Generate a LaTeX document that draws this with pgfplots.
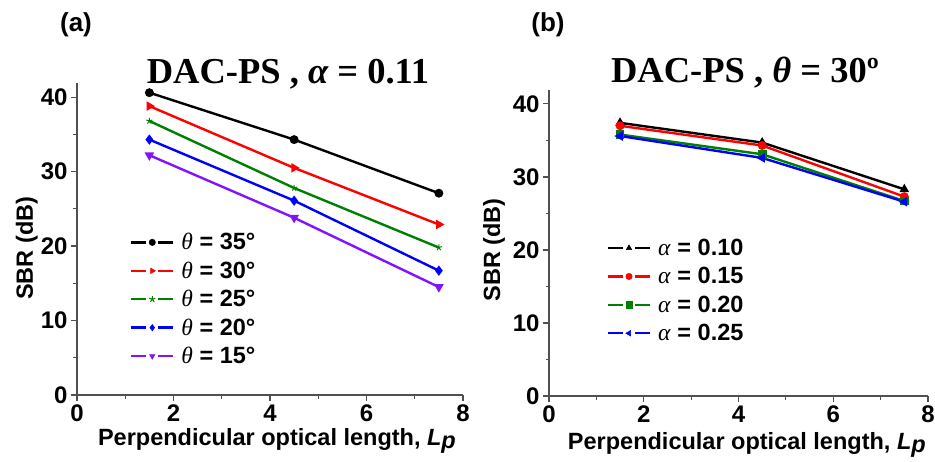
\documentclass[border=0pt]{standalone}
\usepackage{fontspec}
\setmainfont{Liberation Sans}
\newfontfamily\tnr{Liberation Serif}
\usepackage{pgfplots}
\pgfplotsset{compat=1.18}
\definecolor{myviolet}{RGB}{128,20,255}
\definecolor{mygreen}{RGB}{0,128,0}
\definecolor{axgray}{RGB}{80,80,80}
\newcommand\lp{\textit{L}\raisebox{-0.3ex}{\textit{p}}}
\pgfplotsset{
  myax/.style={
    scale only axis,
    xmin=0, xmax=8, ymin=0, ymax=41.9,
    axis x line=bottom, axis y line=left,
    axis line style={-, axgray, line width=1.3pt},
    every tick/.style={axgray, line width=1.2pt},
    tick align=outside,
    major tick length=6pt, minor tick length=3.5pt,
    xtick={0,2,4,6,8}, ytick={0,10,20,30,40},
    minor tick num=1,
    /pgf/number format/assume math mode=true,
    ticklabel style={font=\fontsize{24}{26}\selectfont\bfseries},
    label style={font=\fontsize{23.5}{25}\selectfont\bfseries},
    xlabel={Perpendicular optical length, \lp},
    ylabel={SBR (dB)},
    every axis plot/.append style={line width=2.4pt, mark size=3.2pt},
    legend style={draw=none, fill=none, font=\fontsize{23.5}{25}\selectfont, row sep=6.5pt,
      inner sep=0pt,
      /tikz/every odd column/.append style={column sep=5pt}},
    legend cell align=left,
    legend image code/.code={
      \draw[mark=none, line width=2.4pt] (0pt,0pt)--(15pt,0pt);
      \draw[mark=none, line width=2.4pt] (27pt,0pt)--(42pt,0pt);
      \draw[line width=0.5pt] plot coordinates {(21pt,0pt)};
    },
  }
}
\begin{document}
\begin{tikzpicture}
\useasboundingbox (0pt,0pt) rectangle (935pt,-461pt);
\begin{axis}[myax, at={(77pt,-395pt)}, anchor=south west, width=386pt, height=312pt,
  xlabel style={at={(axis description cs:0.518,-0.147)}, anchor=center},
  ylabel style={at={(axis description cs:-0.13,0.47)}, anchor=center},
  legend style={at={(axis description cs:0.137,0.525)}, anchor=north west}]
\addplot[black, mark=*] coordinates {(1.5,40.6) (4.5,34.3) (7.5,27.1)};
\addlegendentry{{\tnr\itshape θ} \textbf{= 35°}}
\addplot[red, mark=triangle*, mark options={rotate=-90}] coordinates {(1.5,38.8) (4.5,30.5) (7.5,22.9)};
\addlegendentry{{\tnr\itshape θ} \textbf{= 30°}}
\addplot[mygreen, mark=star, mark options={line width=1pt}] coordinates {(1.5,36.8) (4.5,27.8) (7.5,19.8)};
\addlegendentry{{\tnr\itshape θ} \textbf{= 25°}}
\addplot[blue, mark=diamond*] coordinates {(1.5,34.3) (4.5,26.1) (7.5,16.7)};
\addlegendentry{{\tnr\itshape θ} \textbf{= 20°}}
\addplot[myviolet, mark=triangle*, mark options={rotate=180}] coordinates {(1.5,32.2) (4.5,23.8) (7.5,14.5)};
\addlegendentry{{\tnr\itshape θ} \textbf{= 15°}}
\end{axis}
\begin{axis}[myax, at={(549pt,-396pt)}, anchor=south west, width=379pt, height=306pt,
  xlabel style={at={(axis description cs:0.522,-0.16)}, anchor=center},
  ylabel style={at={(axis description cs:-0.145,0.477)}, anchor=center},
  legend style={at={(axis description cs:0.152,0.52)}, anchor=north west}]
\addplot[black, mark=triangle*] coordinates {(1.5,37.4) (4.5,34.7) (7.5,28.3)};
\addlegendentry{{\tnr\itshape α} \textbf{= 0.10}}
\addplot[red, mark=*] coordinates {(1.5,37.0) (4.5,34.3) (7.5,27.3)};
\addlegendentry{{\tnr\itshape α} \textbf{= 0.15}}
\addplot[mygreen, mark=square*] coordinates {(1.5,35.8) (4.5,33.1) (7.5,26.7)};
\addlegendentry{{\tnr\itshape α} \textbf{= 0.20}}
\addplot[blue, mark=triangle*, mark options={rotate=90}] coordinates {(1.5,35.6) (4.5,32.6) (7.5,26.6)};
\addlegendentry{{\tnr\itshape α} \textbf{= 0.25}}
\end{axis}
\node[anchor=base, font=\tnr\bfseries\fontsize{36.5}{38}\selectfont] at (288pt,-83pt) {DAC-PS , {\itshape α} = 0.11};
\node[anchor=base, font=\tnr\bfseries\fontsize{36.5}{38}\selectfont] at (745pt,-82pt) {DAC-PS , {\itshape θ} = 30º};
\node[font=\bfseries\fontsize{26}{28}\selectfont] at (76pt,-25pt) {(a)};
\node[font=\bfseries\fontsize{26}{28}\selectfont] at (548pt,-25pt) {(b)};
\end{tikzpicture}
\end{document}
